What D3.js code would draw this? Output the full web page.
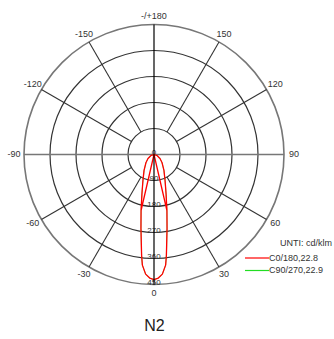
<!DOCTYPE html>
<html>
<head>
<meta charset="utf-8">
<script src="https://cdn.jsdelivr.net/npm/d3@7"></script>
<style>
  html, body { margin: 0; padding: 0; background: #fff; }
  svg { display: block; font-family: "Liberation Sans", Arial, sans-serif; }
</style>
</head>
<body>
<div class="polar-container"></div>
<script>
// --- Data ---
const ringValues = [0, 90, 180, 270, 360, 450];
const angleTicks = [-150, -120, -90, -60, -30, 0, 30, 60, 90, 120, 150, 180];
const angleLabels = ["-150", "-120", "-90", "-60", "-30", "0", "30", "60", "90", "120", "150", "-/+180"];

// C0/180 trace, in drawing order (gamma in degrees, intensity in cd/klm)
const gammaC0 = [-90, -70, -56, -45, -32, -23, -17, -13, -10, -8, -7, -6, -4, -2, 0,
                 2, 4, 6, 7, 8, 10, 13, 17, 23, 32, 45, 56, 70, 90, 13, 0, -13];
const cdC0 = [0, 12, 25, 39, 65, 98, 143, 199, 260, 315, 352, 385, 415, 428, 433,
              428, 415, 385, 352, 315, 260, 199, 143, 98, 65, 39, 25, 12, 0, 199, 0, 199];

// C90/270 trace (hidden under the red one)
const gammaC90 = [-90, -70, -56, -45, -32, -23, -17, -13, -10, -8, -7, -6, -4, -2, 0,
                  2, 4, 6, 7, 8, 10, 13, 17, 23, 32, 45, 56, 70, 90];
const cdC90 = [0, 12, 25, 39, 65, 98, 143, 199, 260, 315, 352, 385, 415, 428, 433,
               428, 415, 385, 352, 315, 260, 199, 143, 98, 65, 39, 25, 12, 0];

const legendNames = ["C0/180,22.8", "C90/270,22.9"];
const legendColors = ["#ff0000", "#22dd22"];

const createPolarChart = () => {
    const viewW = 334;
    const viewH = 339;
    const cx = 154, cy = 154.5;
    const outerR = 130;

    const svg = d3.select(".polar-container")
        .append("svg")
        .attr("width", viewW)
        .attr("height", viewH);

    const r = d3.scaleLinear().domain([0, 450]).range([0, outerR]);
    // gamma 0 points down, 90 right, 180 up
    const toRad = g => (180 - g) * Math.PI / 180;

    const g = svg.append("g").attr("transform", `translate(${cx},${cy})`);

    // rings
    g.selectAll("circle.ring")
        .data(ringValues.slice(1))
        .enter()
        .append("circle")
        .attr("class", "ring")
        .attr("r", d => r(d))
        .attr("fill", "none")
        .attr("stroke", d => d === 450 ? "#777" : "#333")
        .attr("stroke-width", d => d === 450 ? 1.6 : 1.2);

    // spokes
    const spokes = [-150, -120, -60, -30, 30, 60, 120, 150];
    g.selectAll("line.spoke")
        .data(spokes)
        .enter()
        .append("line")
        .attr("x1", d => r(90) * Math.sin(toRad(d)))
        .attr("y1", d => -r(90) * Math.cos(toRad(d)))
        .attr("x2", d => r(450) * Math.sin(toRad(d)))
        .attr("y2", d => -r(450) * Math.cos(toRad(d)))
        .attr("stroke", "#333")
        .attr("stroke-width", 1.1);

    // horizontal axis
    g.append("line")
        .attr("x1", -outerR).attr("x2", outerR)
        .attr("y1", 0).attr("y2", 0)
        .attr("stroke", "#777")
        .attr("stroke-width", 1.4);

    // ring value labels
    g.selectAll("text.ringlab")
        .data(ringValues)
        .enter()
        .append("text")
        .attr("x", 0)
        .attr("y", d => r(d) - 2)
        .attr("text-anchor", "middle")
        .attr("dominant-baseline", "middle")
        .style("font-size", "8px")
        .style("fill", "#333")
        .text(d => d === 0 ? "0" : d);

    // angle labels
    g.selectAll("text.anglab")
        .data(angleTicks)
        .enter()
        .append("text")
        .attr("x", d => 140 * Math.sin(toRad(d)))
        .attr("y", d => -(d === 180 ? 137.5 : 139) * Math.cos(toRad(d)))
        .attr("text-anchor", "middle")
        .attr("dominant-baseline", "middle")
        .style("font-size", "9px")
        .style("fill", "#333")
        .text((d, i) => angleLabels[i]);

    // curves
    const line = d3.lineRadial()
        .angle(d => toRad(d[0]))
        .radius(d => r(d[1]));

    g.append("path")
        .datum(gammaC90.map((a, i) => [a, cdC90[i]]))
        .attr("d", line)
        .attr("fill", "none")
        .attr("stroke", legendColors[1])
        .attr("stroke-width", 0.6);

    g.append("path")
        .datum(gammaC0.map((a, i) => [a, cdC0[i]]))
        .attr("d", line)
        .attr("fill", "none")
        .attr("stroke", legendColors[0])
        .attr("stroke-width", 1.3)
        .attr("stroke-linejoin", "round");

    // vertical axis on top
    g.append("line")
        .attr("x1", 0).attr("x2", 0)
        .attr("y1", -outerR).attr("y2", outerR)
        .attr("stroke", "#000")
        .attr("stroke-width", 1.2);

    // legend
    svg.append("text")
        .attr("x", 280)
        .attr("y", 243.5)
        .attr("dominant-baseline", "middle")
        .style("font-size", "9px")
        .style("fill", "#333")
        .text("UNTI: cd/klm");

    const leg = svg.selectAll("g.leg")
        .data(legendNames)
        .enter()
        .append("g")
        .attr("transform", (d, i) => `translate(245,${258 + i * 12.5})`);

    leg.append("line")
        .attr("x1", 0).attr("x2", 24)
        .attr("y1", 0).attr("y2", 0)
        .attr("stroke", (d, i) => legendColors[i])
        .attr("stroke-width", 1.2);

    leg.append("text")
        .attr("x", 24)
        .attr("y", 0.5)
        .attr("dominant-baseline", "middle")
        .style("font-size", "9px")
        .style("fill", "#333")
        .text(d => d);

    // title
    svg.append("text")
        .attr("x", 154.5)
        .attr("y", 326.5)
        .attr("text-anchor", "middle")
        .attr("dominant-baseline", "middle")
        .style("font-size", "16px")
        .style("fill", "#222")
        .text("N2");
};

createPolarChart();
</script>
</body>
</html>
